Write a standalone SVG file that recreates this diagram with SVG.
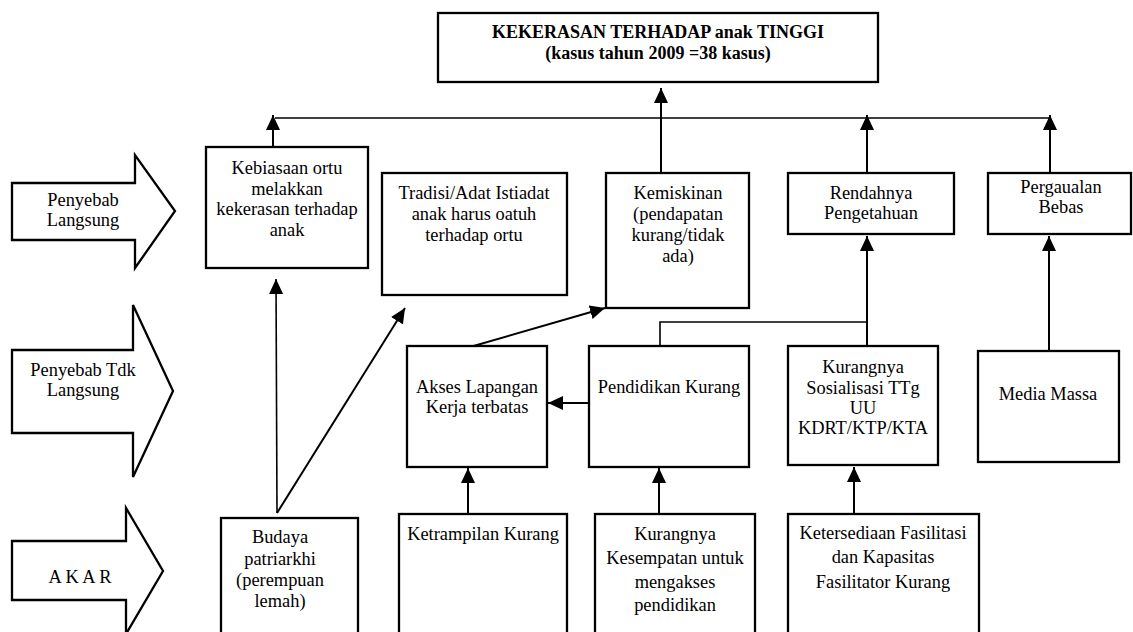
<svg xmlns="http://www.w3.org/2000/svg" width="1133" height="632" viewBox="0 0 1133 632">
<defs>
<marker id="ah" viewBox="0 0 15 14" refX="15" refY="7" markerWidth="15" markerHeight="14" markerUnits="userSpaceOnUse" orient="auto">
<path d="M0,0 L15,7 L0,14 z" fill="#000"/>
</marker>
<style>
.box{fill:#fff;stroke:#000;stroke-width:2.3}
.blk{fill:#fff;stroke:#000;stroke-width:2.3;stroke-linejoin:miter}
.t{font-family:"Liberation Serif","Times New Roman",serif;font-size:18.4px;fill:#000;text-anchor:middle}
.tb{font-family:"Liberation Serif","Times New Roman",serif;font-size:18px;font-weight:bold;fill:#000;text-anchor:middle}
.c{fill:none;stroke:#000;stroke-width:2}
.l{fill:none;stroke:#000;stroke-width:1.6}
.a{marker-end:url(#ah)}
</style>
</defs>
<rect width="1133" height="632" fill="#fff"/>

<g id="arrow-langsung">
<polygon class="blk" points="12,183 135,183 135,155 175,211 135,268 135,240 12,240"/>
<text class="t" x="83" y="206">Penyebab</text>
<text class="t" x="83" y="226">Langsung</text>
</g>
<g id="arrow-tdk-langsung">
<polygon class="blk" points="12,350 133,350 133,305 173,391 133,477 133,433 12,433"/>
<text class="t" x="83" y="376">Penyebab Tdk</text>
<text class="t" x="83" y="396">Langsung</text>
</g>
<g id="arrow-akar">
<polygon class="blk" points="12,541 126,541 126,508 163,571 126,634 126,600 12,600"/>
<text class="t" x="80" y="583">A K A R</text>
</g>

<g id="connectors">
<line class="l" x1="275" y1="118" x2="1050" y2="118"/>
<line class="c a" x1="661" y1="173" x2="661" y2="88"/>
<line class="c a" x1="273" y1="147" x2="273" y2="115"/>
<line class="c a" x1="867" y1="173" x2="867" y2="115"/>
<line class="c a" x1="1050" y1="173" x2="1050" y2="115"/>
<line class="l a" x1="277" y1="513" x2="276" y2="279"/>
<line class="c a" x1="277" y1="513" x2="405" y2="308"/>
<line class="c a" x1="470" y1="347" x2="605" y2="308"/>
<line class="c a" x1="589" y1="403" x2="548" y2="403"/>
<polyline class="l" points="660,346 660,322 867,322"/>
<line class="c a" x1="867" y1="346" x2="867" y2="236"/>
<line class="c a" x1="1049" y1="351" x2="1049" y2="236"/>
<line class="c a" x1="468" y1="514" x2="468" y2="468"/>
<line class="c a" x1="659" y1="514" x2="659" y2="468"/>
<line class="c a" x1="854" y1="514" x2="854" y2="467"/>
</g>

<g id="n-top">
<rect class="box" x="438" y="13" width="440" height="69"/>
<text class="tb" x="658" y="38">KEKERASAN TERHADAP anak TINGGI</text>
<text class="tb" x="658" y="59">(kasus tahun 2009 =38 kasus)</text>
</g>
<g id="n-kebiasaan">
<rect class="box" x="206" y="147" width="162" height="121"/>
<text class="t" x="287" y="174">Kebiasaan ortu</text>
<text class="t" x="287" y="195">melakkan</text>
<text class="t" x="287" y="215">kekerasan terhadap</text>
<text class="t" x="287" y="236">anak</text>
</g>
<g id="n-tradisi">
<rect class="box" x="382" y="173" width="185" height="122"/>
<text class="t" x="474" y="199">Tradisi/Adat Istiadat</text>
<text class="t" x="474" y="220">anak harus oatuh</text>
<text class="t" x="474" y="241">terhadap ortu</text>
</g>
<g id="n-kemiskinan">
<rect class="box" x="606" y="173" width="143" height="135"/>
<text class="t" x="678" y="199">Kemiskinan</text>
<text class="t" x="678" y="220">(pendapatan</text>
<text class="t" x="678" y="241">kurang/tidak</text>
<text class="t" x="678" y="262">ada)</text>
</g>
<g id="n-rendahnya">
<rect class="box" x="788" y="173" width="166" height="61"/>
<text class="t" x="871" y="199">Rendahnya</text>
<text class="t" x="871" y="219">Pengetahuan</text>
</g>
<g id="n-pergaulan">
<rect class="box" x="988" y="173" width="143" height="61"/>
<text class="t" x="1061" y="193">Pergaualan</text>
<text class="t" x="1061" y="213">Bebas</text>
</g>
<g id="n-akses">
<rect class="box" x="407" y="346" width="140" height="121"/>
<text class="t" x="477" y="393">Akses Lapangan</text>
<text class="t" x="477" y="413">Kerja terbatas</text>
</g>
<g id="n-pendidikan">
<rect class="box" x="589" y="346" width="160" height="121"/>
<text class="t" x="669" y="393">Pendidikan Kurang</text>
</g>
<g id="n-sosialisasi">
<rect class="box" x="788" y="346" width="150" height="119"/>
<text class="t" x="863" y="373">Kurangnya</text>
<text class="t" x="863" y="394">Sosialisasi TTg</text>
<text class="t" x="863" y="414">UU</text>
<text class="t" x="863" y="434">KDRT/KTP/KTA</text>
</g>
<g id="n-media">
<rect class="box" x="978" y="351" width="141" height="111"/>
<text class="t" x="1048" y="400">Media Massa</text>
</g>
<g id="n-budaya">
<rect class="box" x="221" y="518" width="137" height="125"/>
<text class="t" x="280" y="543">Budaya</text>
<text class="t" x="280" y="565">patriarkhi</text>
<text class="t" x="280" y="586">(perempuan</text>
<text class="t" x="280" y="607">lemah)</text>
</g>
<g id="n-ketrampilan">
<rect class="box" x="399" y="514" width="168" height="129"/>
<text class="t" x="483" y="540">Ketrampilan Kurang</text>
</g>
<g id="n-kesempatan">
<rect class="box" x="595" y="514" width="160" height="129"/>
<text class="t" x="675" y="540">Kurangnya</text>
<text class="t" x="675" y="564">Kesempatan untuk</text>
<text class="t" x="675" y="588">mengakses</text>
<text class="t" x="675" y="611">pendidikan</text>
</g>
<g id="n-ketersediaan">
<rect class="box" x="788" y="514" width="191" height="129"/>
<text class="t" x="883" y="539">Ketersediaan Fasilitasi</text>
<text class="t" x="883" y="563">dan Kapasitas</text>
<text class="t" x="883" y="588">Fasilitator Kurang</text>
</g>
</svg>
